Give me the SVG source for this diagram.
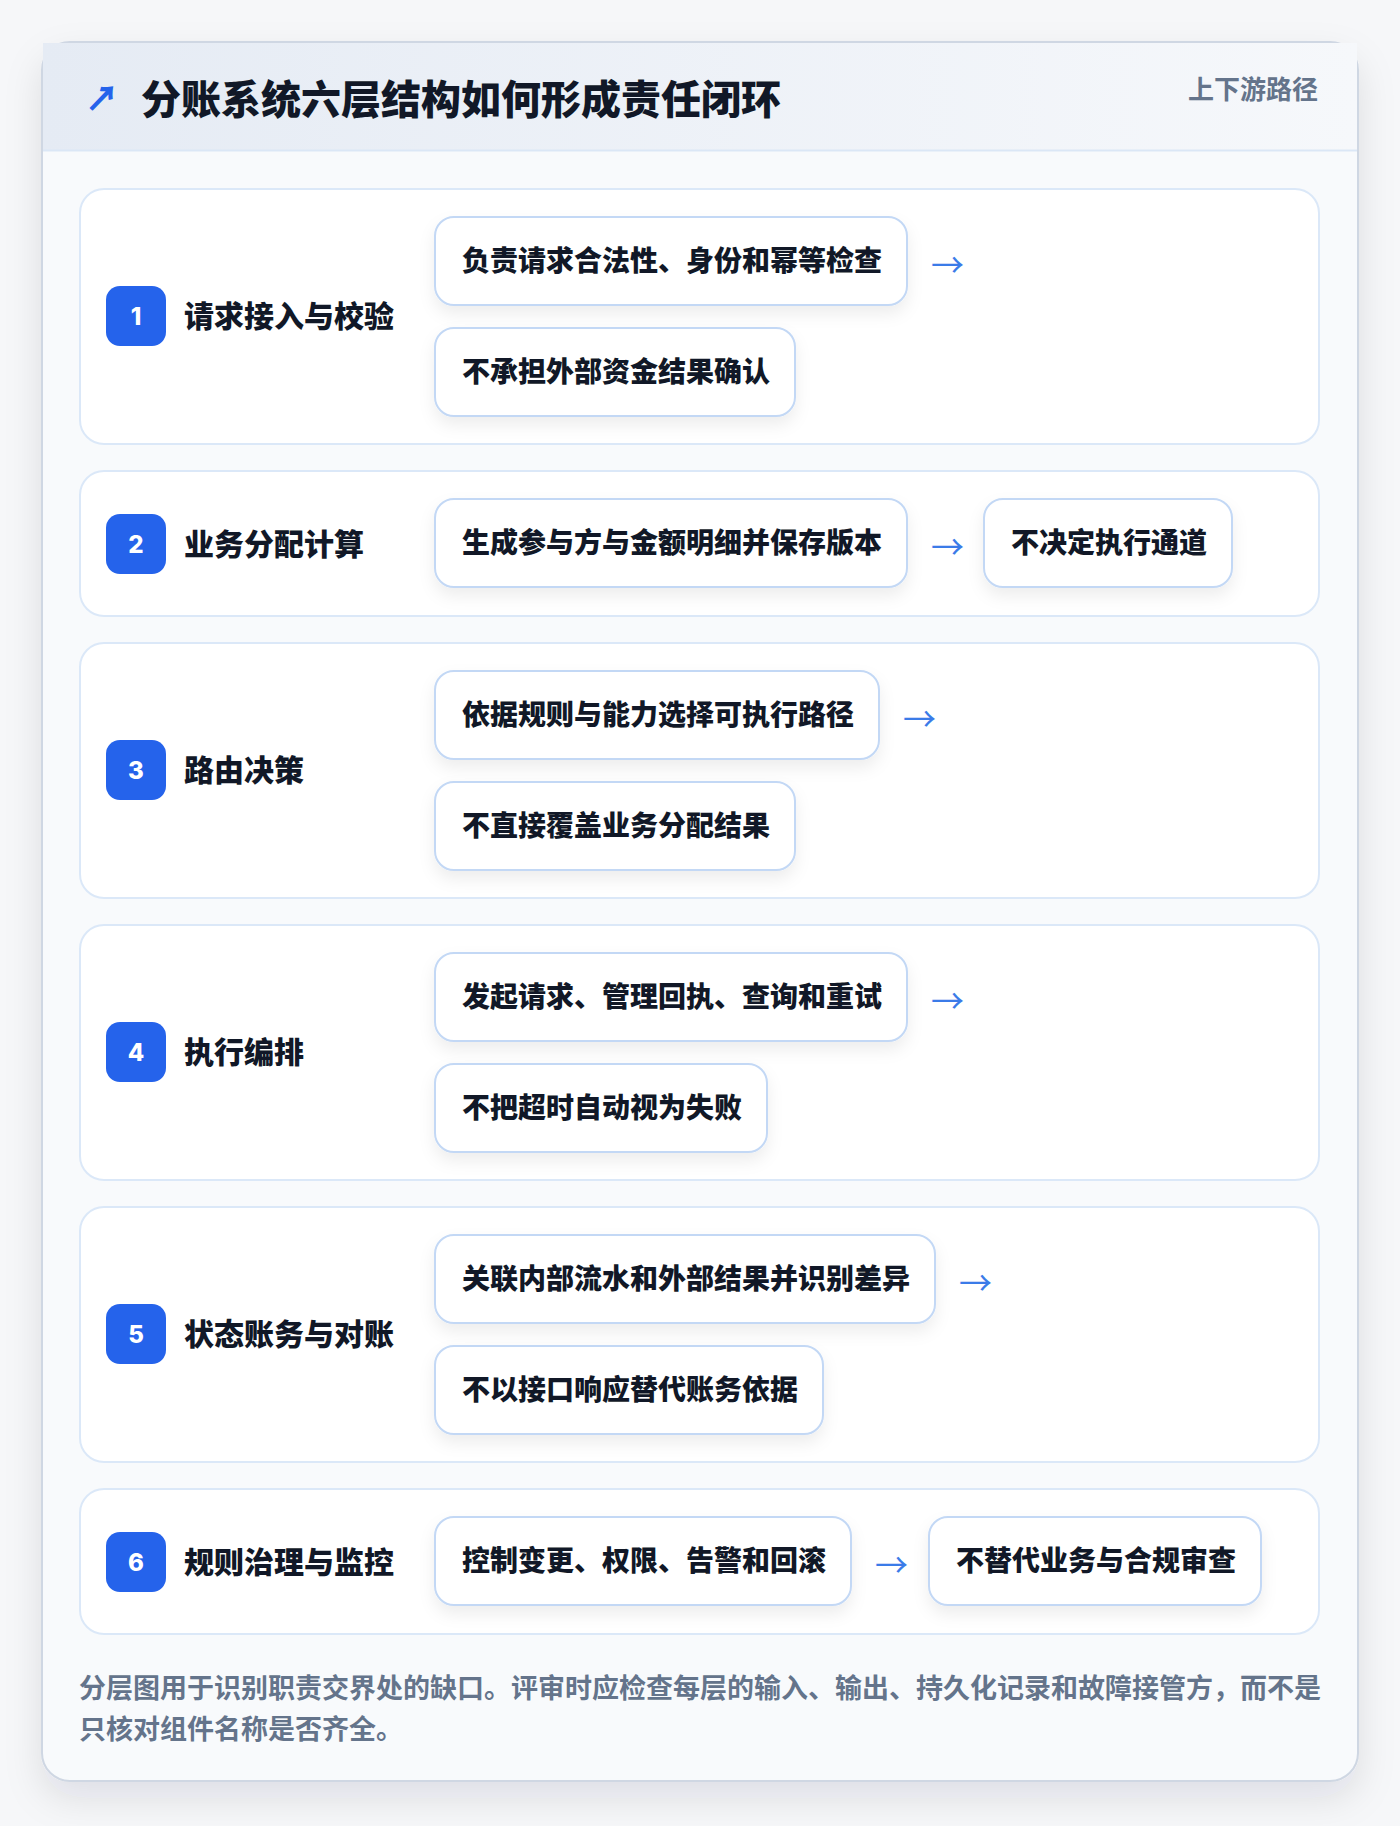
<svg xmlns="http://www.w3.org/2000/svg" width="1400" height="1826" viewBox="0 0 1400 1826">
<defs>
<style>
.t{font-family:"Noto Sans CJK SC","Noto Sans",sans-serif;font-weight:800}
.title{font-size:40px;fill:#111827}
.side{font-size:26px;fill:#64748b;font-weight:700}
.row{fill:#ffffff;stroke:#dbe8f8;stroke-width:2}
.badge{fill:#2563eb}
.num{font-family:"Inter","Liberation Sans",sans-serif;font-weight:800;font-size:24px;fill:#ffffff}
.lab{font-size:30px;fill:#111827}
.pill{fill:#ffffff;stroke:#c3d8f5;stroke-width:2}
.pt{font-size:28px;fill:#111827}
.arr{font-family:"Noto Sans CJK SC",sans-serif;font-size:33px;fill:#3b7be8;font-weight:400}
.foot{font-size:27px;fill:#64748b;font-weight:700}
</style>
<linearGradient id="hg" x1="0" y1="0" x2="1" y2="0">
<stop offset="0" stop-color="#e5ebf4"/>
<stop offset="1" stop-color="#f6f8fb"/>
</linearGradient>
<filter id="cs" x="-10%" y="-10%" width="120%" height="120%">
<feDropShadow dx="0" dy="16" stdDeviation="18" flood-color="#0f172a" flood-opacity="0.10"/>
</filter>
<filter id="ps" x="-20%" y="-30%" width="140%" height="180%">
<feDropShadow dx="0" dy="8" stdDeviation="8" flood-color="#0f172a" flood-opacity="0.07"/>
</filter>
</defs>
<rect x="0" y="0" width="1400" height="1826" fill="#f6f7f9"/>
<g id="card">
<rect x="42" y="42" width="1316" height="1739" rx="28" fill="#f8fafc" stroke="#cfd7e3" stroke-width="2" filter="url(#cs)"/>
<rect x="43" y="43" width="1314" height="107" fill="url(#hg)"/>
<line x1="43" y1="150.5" x2="1357" y2="150.5" stroke="#dbe7f6" stroke-width="2"/>
<text class="t" x="85" y="111" font-size="34" fill="#2563eb" font-weight="700">↗</text>
<text class="t title" x="141" y="114">分账系统六层结构如何形成责任闭环</text>
<text class="t side" x="1318" y="99" text-anchor="end">上下游路径</text>
</g>
<g id="layer1">
<rect class="row" x="80" y="189" width="1239" height="255" rx="24"/>
<rect class="badge" x="106" y="286" width="60" height="60" rx="14"/>
<text class="num" x="136" y="325" text-anchor="middle">1</text>
<text class="t lab" x="184" y="327">请求接入与校验</text>
<g filter="url(#ps)"><rect class="pill" x="435" y="217" width="472" height="88" rx="19"/></g>
<text class="t pt" x="462" y="271">负责请求合法性、身份和幂等检查</text>
<g filter="url(#ps)"><rect class="pill" x="435" y="328" width="360" height="88" rx="19"/></g>
<text class="t pt" x="462" y="382">不承担外部资金结果确认</text>
</g>
<g id="layer2">
<rect class="row" x="80" y="471" width="1239" height="145" rx="24"/>
<rect class="badge" x="106" y="514" width="60" height="60" rx="14"/>
<text class="num" x="136" y="553" text-anchor="middle">2</text>
<text class="t lab" x="184" y="555">业务分配计算</text>
<g filter="url(#ps)"><rect class="pill" x="435" y="499" width="472" height="88" rx="19"/></g>
<text class="t pt" x="462" y="553">生成参与方与金额明细并保存版本</text>
<g filter="url(#ps)"><rect class="pill" x="984" y="499" width="248" height="88" rx="19"/></g>
<text class="t pt" x="1011" y="553">不决定执行通道</text>
</g>
<g id="layer3">
<rect class="row" x="80" y="643" width="1239" height="255" rx="24"/>
<rect class="badge" x="106" y="740" width="60" height="60" rx="14"/>
<text class="num" x="136" y="779" text-anchor="middle">3</text>
<text class="t lab" x="184" y="781">路由决策</text>
<g filter="url(#ps)"><rect class="pill" x="435" y="671" width="444" height="88" rx="19"/></g>
<text class="t pt" x="462" y="725">依据规则与能力选择可执行路径</text>
<g filter="url(#ps)"><rect class="pill" x="435" y="782" width="360" height="88" rx="19"/></g>
<text class="t pt" x="462" y="836">不直接覆盖业务分配结果</text>
</g>
<g id="layer4">
<rect class="row" x="80" y="925" width="1239" height="255" rx="24"/>
<rect class="badge" x="106" y="1022" width="60" height="60" rx="14"/>
<text class="num" x="136" y="1061" text-anchor="middle">4</text>
<text class="t lab" x="184" y="1063">执行编排</text>
<g filter="url(#ps)"><rect class="pill" x="435" y="953" width="472" height="88" rx="19"/></g>
<text class="t pt" x="462" y="1007">发起请求、管理回执、查询和重试</text>
<g filter="url(#ps)"><rect class="pill" x="435" y="1064" width="332" height="88" rx="19"/></g>
<text class="t pt" x="462" y="1118">不把超时自动视为失败</text>
</g>
<g id="layer5">
<rect class="row" x="80" y="1207" width="1239" height="255" rx="24"/>
<rect class="badge" x="106" y="1304" width="60" height="60" rx="14"/>
<text class="num" x="136" y="1343" text-anchor="middle">5</text>
<text class="t lab" x="184" y="1345">状态账务与对账</text>
<g filter="url(#ps)"><rect class="pill" x="435" y="1235" width="500" height="88" rx="19"/></g>
<text class="t pt" x="462" y="1289">关联内部流水和外部结果并识别差异</text>
<g filter="url(#ps)"><rect class="pill" x="435" y="1346" width="388" height="88" rx="19"/></g>
<text class="t pt" x="462" y="1400">不以接口响应替代账务依据</text>
</g>
<g id="layer6">
<rect class="row" x="80" y="1489" width="1239" height="145" rx="24"/>
<rect class="badge" x="106" y="1532" width="60" height="60" rx="14"/>
<text class="num" x="136" y="1571" text-anchor="middle">6</text>
<text class="t lab" x="184" y="1573">规则治理与监控</text>
<g filter="url(#ps)"><rect class="pill" x="435" y="1517" width="416" height="88" rx="19"/></g>
<text class="t pt" x="462" y="1571">控制变更、权限、告警和回滚</text>
<g filter="url(#ps)"><rect class="pill" x="929" y="1517" width="332" height="88" rx="19"/></g>
<text class="t pt" x="956" y="1571">不替代业务与合规审查</text>
</g>
<g id="connectors">
<text class="arr" x="931" y="277">→</text>
<text class="arr" x="931" y="559">→</text>
<text class="arr" x="903" y="731">→</text>
<text class="arr" x="931" y="1013">→</text>
<text class="arr" x="959" y="1295">→</text>
<text class="arr" x="875" y="1577">→</text>
</g>
<g id="footer">
<text class="t foot" x="79" y="1698">分层图用于识别职责交界处的缺口。评审时应检查每层的输入、输出、持久化记录和故障接管方，而不是</text>
<text class="t foot" x="79" y="1739">只核对组件名称是否齐全。</text>
</g>
</svg>
